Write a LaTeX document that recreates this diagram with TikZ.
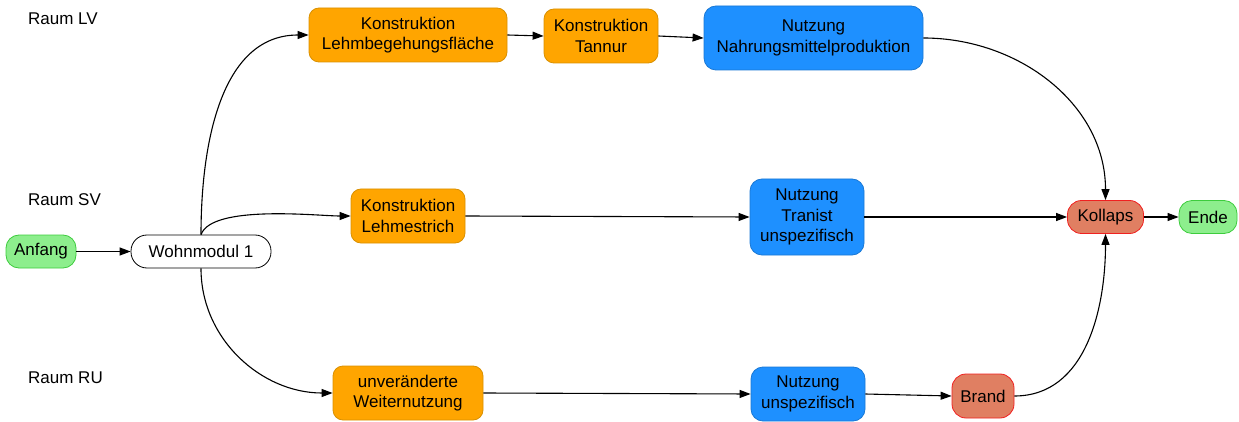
\documentclass[tikz,border=0pt]{standalone}
\usepackage{fontspec}
\setmainfont{Liberation Sans}
\usetikzlibrary{arrows.meta}
\definecolor{ofill}{HTML}{FFA500}
\definecolor{oline}{HTML}{D99000}
\definecolor{bfill}{HTML}{1E90FF}
\definecolor{bline}{HTML}{1A78D4}
\definecolor{gfill}{HTML}{8DEE8D}
\definecolor{gline}{HTML}{3DCC3D}
\definecolor{rfill}{HTML}{E07F62}
\definecolor{rline}{HTML}{F02020}
\begin{document}
\begin{tikzpicture}[x=1pt,y=-1pt,
  font=\fontsize{17}{20.5}\selectfont,
  box/.style={rectangle, rounded corners=10pt, align=center, inner sep=0pt, line width=0.8pt},
  orangebox/.style={box, fill=ofill, draw=oline},
  bluebox/.style={box, fill=bfill, draw=bline, rounded corners=12pt},
  greenbox/.style={box, fill=gfill, draw=gline, rounded corners=13pt},
  redbox/.style={box, fill=rfill, draw=rline, rounded corners=14pt},
  whitebox/.style={box, fill=white, draw=black, rounded corners=16pt},
  roomlabel/.style={anchor=west, inner sep=0pt},
  link/.style={-{Triangle[length=11pt,width=8pt]}, line width=1.1pt}]
\useasboundingbox (0,0) rectangle (1239,422);

% room labels
\node[roomlabel] (lv) at (28,19) {Raum LV};
\node[roomlabel] (sv) at (28,200) {Raum SV};
\node[roomlabel] (ru) at (28,378) {Raum RU};

% start and first module
\node[greenbox, minimum width=70pt, minimum height=33pt] (anfang) at (41,251.5) {Anfang};
\node[whitebox, minimum width=140pt, minimum height=33pt] (wm) at (201,251.5) {Wohnmodul 1};

% Raum LV
\node[orangebox, minimum width=198pt, minimum height=54pt] (lehmfl) at (408,35) {Konstruktion\\Lehmbegehungsfläche};
\node[orangebox, minimum width=114pt, minimum height=54pt] (tannur) at (601,36) {Konstruktion\\Tannur};
\node[bluebox, minimum width=219pt, minimum height=64pt] (nahrung) at (813.5,38) {Nutzung\\Nahrungsmittelproduktion};

% Raum SV
\node[orangebox, minimum width=114pt, minimum height=54pt] (estrich) at (408,216) {Konstruktion\\Lehmestrich};
\node[bluebox, minimum width=114pt, minimum height=76pt] (transit) at (807,217) {Nutzung\\Tranist\\unspezifisch};
\node[redbox, minimum width=76pt, minimum height=33pt] (kollaps) at (1105.5,217) {Kollaps};
\node[greenbox, minimum width=58pt, minimum height=33pt] (ende) at (1208,217) {Ende};

% Raum RU
\node[orangebox, minimum width=150pt, minimum height=54pt] (weiter) at (408,393) {unveränderte\\Weiternutzung};
\node[bluebox, minimum width=114pt, minimum height=54pt] (unspez) at (808,394) {Nutzung\\unspezifisch};
\node[redbox, minimum width=62pt, minimum height=44pt] (brand) at (983,396) {Brand};

% connectors
\draw[link] (anfang) -- (wm);
\draw[link] (wm.north) to[out=90, in=180] (lehmfl.west);
\draw[link] (wm.north) to[out=70, in=180, looseness=0.55] (estrich.west);
\draw[link] (wm.south) to[out=-90, in=180] (weiter.west);
\draw[link] (lehmfl.east) -- (tannur.west);
\draw[link] (tannur.east) -- (nahrung.west);
\draw[link] (nahrung.east) to[out=0, in=90] (kollaps.north);
\draw[link] (estrich.east) -- (transit.west);
\draw[link] (transit.east) -- (kollaps.west);
\draw[link] (kollaps.east) -- (ende.west);
\draw[link] (weiter.east) -- (unspez.west);
\draw[link] (unspez.east) -- (brand.west);
\draw[link] (brand.east) to[out=0, in=-90] (kollaps.south);
\end{tikzpicture}
\end{document}
